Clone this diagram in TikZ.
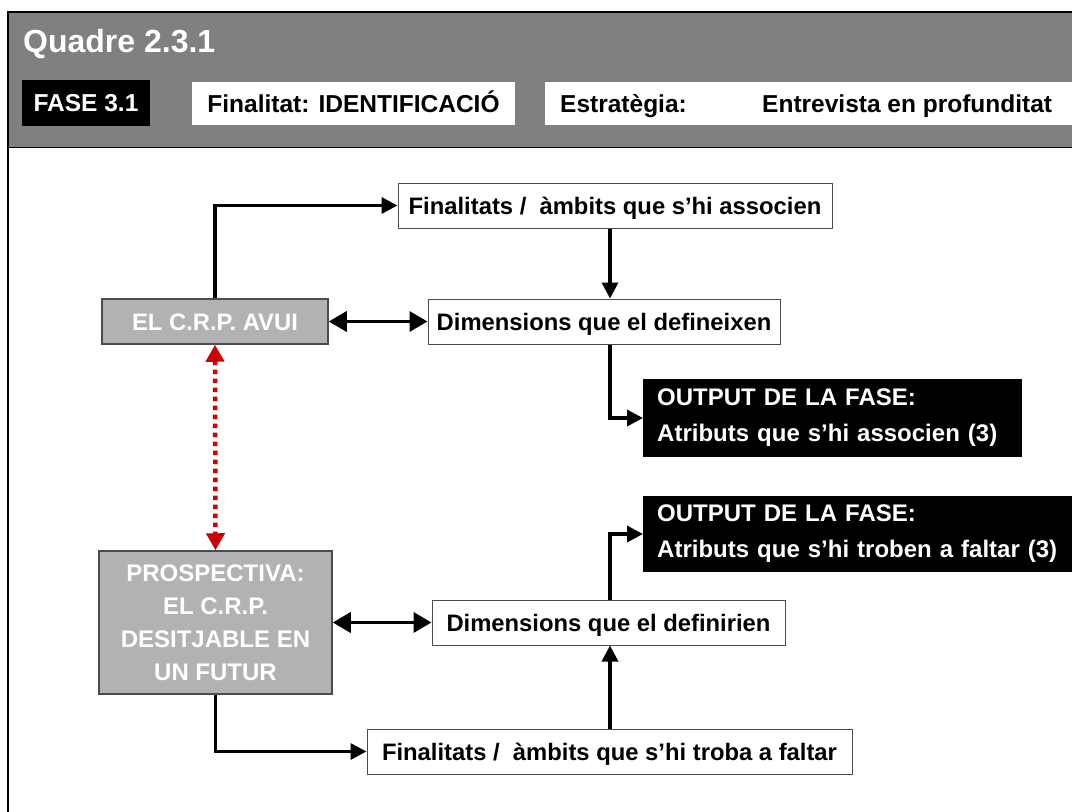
\documentclass[tikz,border=0pt]{standalone}
\usepackage{fontspec}
\setmainfont{Liberation Sans}
\usetikzlibrary{arrows.meta}
\definecolor{hdr}{HTML}{808080}
\definecolor{gbox}{HTML}{B2B2B2}
\definecolor{rd}{HTML}{CC0000}
\begin{document}
\begin{tikzpicture}[x=1pt,y=-1pt,
  txt/.style={font=\fontsize{23.8}{28}\selectfont\bfseries},
  htxt/.style={font=\fontsize{24.5}{28}\selectfont\bfseries},
  one/.style={text height=17.5pt, text depth=0pt},
  wbox/.style={draw=black!70, line width=1pt, fill=white, inner sep=0pt, txt, one},
  hbox/.style={fill=white, inner sep=0pt, htxt, one},
  gbx/.style={draw=black!70, line width=1.5pt, fill=gbox, text=white, inner sep=0pt, txt, align=center},
  obox/.style={fill=black, text=white, inner xsep=14pt, inner ysep=0pt, anchor=west, align=left, font=\fontsize{24}{36}\selectfont\bfseries},
  conn/.style={line width=3.5pt, -{Triangle[length=16pt,width=16pt]}},
  dconn/.style={line width=3.5pt, {Triangle[length=18pt,width=20pt]}-{Triangle[length=18pt,width=20pt]}},
  rconn/.style={rd, line width=4.5pt, dash pattern=on 4.5pt off 4.5pt, {Triangle[length=17pt,width=18pt]}-{Triangle[length=17pt,width=18pt]}},
]
\useasboundingbox (0,0) rectangle (1072,812);
\fill[white] (0,0) rectangle (1072,812);
% header band
\fill[hdr] (8,12) rectangle (1072,147);
\draw[line width=1pt] (8,147) -- (1072,147);
\draw[line width=2.5pt] (8,812) -- (8,12) -- (1072,12);
\node[anchor=west, text=white, inner sep=0pt, text height=23pt, text depth=0pt, font=\fontsize{32}{36}\selectfont\bfseries] (title) at (23,41) {Quadre 2.3.1};
\node[fill=black, text=white, inner sep=0pt, minimum width=128pt, minimum height=46pt, htxt, one] (fase) at (86,103) {FASE 3.1};
\node[hbox, minimum width=323pt, minimum height=43pt] (final) at (353.5,103.5) {Finalitat: IDENTIFICACIÓ};
\node[hbox, minimum width=527pt, minimum height=43pt] (estr) at (808.5,103.5) {};
\node[anchor=west, inner sep=0pt, htxt, one] (estrl) at (560,103.5) {Estratègia:};
\node[anchor=west, inner sep=0pt, htxt, one] (estrv) at (762,103.5) {Entrevista en profunditat};
% body boxes
\node[wbox, minimum width=434pt, minimum height=45pt] (fin1) at (615,205.5) {Finalitats /\ \ àmbits que s'hi associen};
\node[gbx, one, minimum width=226pt, minimum height=45pt] (avui) at (215,321.5) {EL C.R.P. AVUI};
\node[wbox, minimum width=352pt, minimum height=45pt] (dim1) at (604,321.5) {Dimensions que el defineixen};
\node[obox, minimum width=379pt, minimum height=78pt, text width=351pt] (out1) at (643,418) {OUTPUT DE LA FASE:\\Atributs que s'hi associen (3)};
\node[obox, minimum width=445pt, minimum height=76pt, text width=417pt] (out2) at (643,534) {OUTPUT DE LA FASE:\\Atributs que s'hi troben a faltar (3)};
\node[wbox, minimum width=353pt, minimum height=45pt] (dim2) at (608.5,622.5) {Dimensions que el definirien};
\node[gbx, minimum width=233pt, minimum height=143pt, font=\fontsize{24}{33}\selectfont\bfseries] (prosp) at (215.5,622.5) {PROSPECTIVA:\\EL C.R.P.\\DESITJABLE EN\\UN FUTUR};
\node[wbox, minimum width=485pt, minimum height=45pt] (fin2) at (609.5,751.5) {Finalitats /\ \ àmbits que s'hi troba a faltar};
% connectors
\coordinate (cx) at (610,0);
\draw[conn] (avui.north) |- (fin1.west);
\draw[conn] (fin1.south -| cx) -- (dim1.north -| cx);
\draw[dconn] (avui.east) -- (dim1.west);
\draw[conn] (dim1.south -| cx) |- (out1.west);
\draw[conn] (dim2.north -| cx) |- (out2.west);
\draw[dconn] (prosp.east) -- (dim2.west);
\draw[conn] (prosp.south) |- (fin2.west);
\draw[conn] (fin2.north -| cx) -- (dim2.south -| cx);
\draw[rconn] (avui.south) -- (prosp.north);
\end{tikzpicture}
\end{document}
